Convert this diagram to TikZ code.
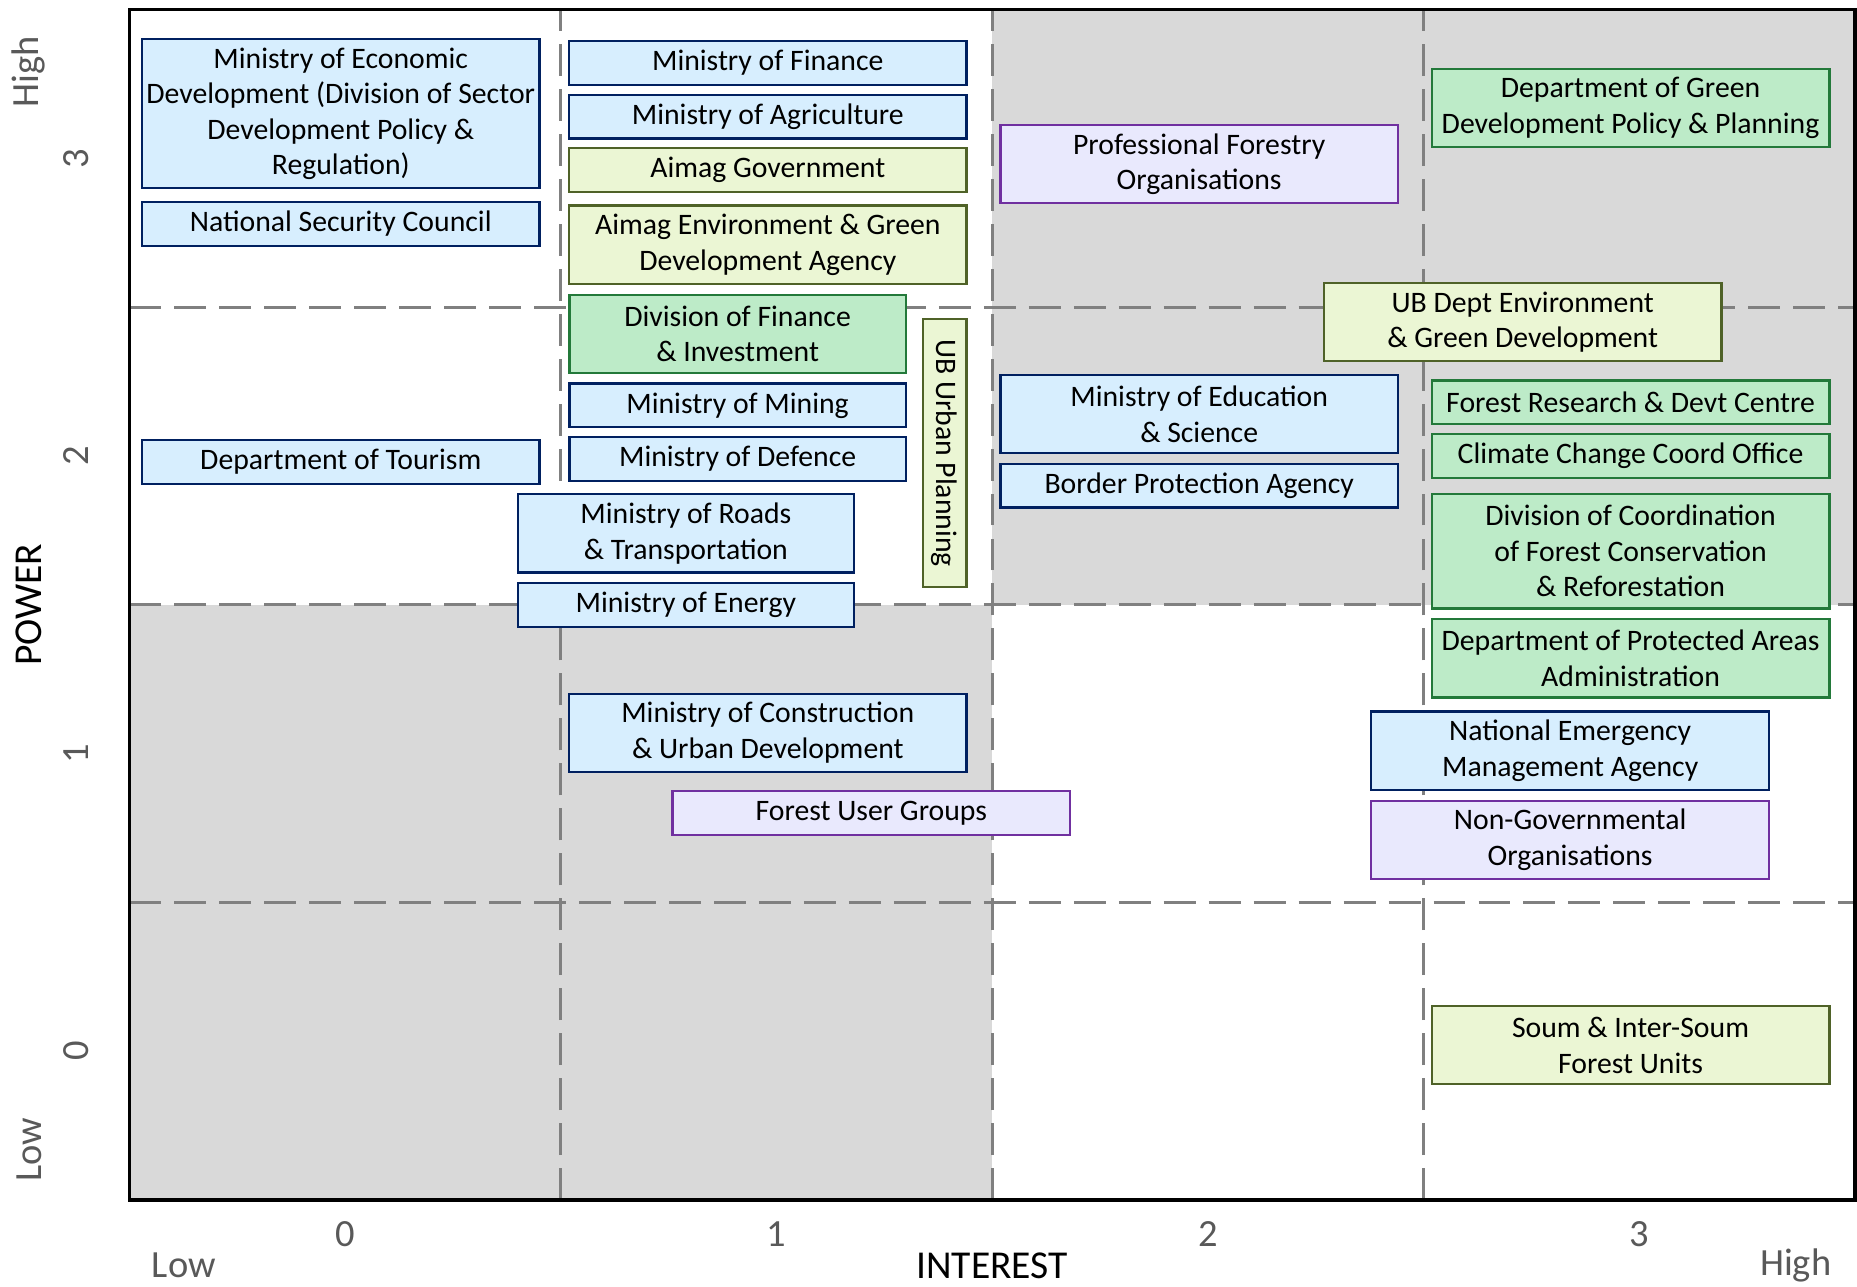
\documentclass[tikz,border=0pt]{standalone}
\usepackage{fontspec}
\setmainfont{Carlito}
\usepackage{xcolor}
\usepackage{tikz}
\definecolor{govfill}{HTML}{D7EEFE}
\definecolor{govline}{HTML}{002060}
\definecolor{aimagfill}{HTML}{EBF6D4}
\definecolor{aimagline}{HTML}{4F6228}
\definecolor{greenfill}{HTML}{BDEBC8}
\definecolor{greenline}{HTML}{23793A}
\definecolor{civilfill}{HTML}{E9E9FD}
\definecolor{civilline}{HTML}{7030A0}
\definecolor{zonefill}{HTML}{D9D9D9}
\definecolor{gridgrey}{HTML}{808080}
\definecolor{ticktext}{HTML}{595959}
\tikzset{
  station/.style={
    draw,
    line width=1.1pt,
    align=center,
    inner xsep=2pt,
    inner ysep=1pt,
    font=\fontsize{14.3}{17.1}\selectfont,
    minimum width=6.72cm
  },
  narrow/.style={minimum width=5.68cm},
  one line/.style={minimum height=0.74cm},
  two lines/.style={minimum height=1.32cm},
  three lines/.style={minimum height=1.94cm},
  four lines/.style={minimum height=2.52cm},
  ministry/.style={fill=govfill, draw=govline},
  provincial/.style={fill=aimagfill, draw=aimagline},
  division/.style={fill=greenfill, draw=greenline},
  civil/.style={fill=civilfill, draw=civilline},
  zone/.style={fill=zonefill},
  grid line/.style={draw=gridgrey, line width=1.5pt, dash pattern=on 0.54cm off 0.22cm},
  tickLabel/.style={font=\fontsize{18.5}{22}\selectfont, text=ticktext},
  axisLabel/.style={font=\fontsize{19}{22}\selectfont}
}

\begin{document}
\begin{tikzpicture}[x=7.29cm,y=5.03cm]
\path[use as bounding box] (-0.80,-0.79) rectangle (3.505,3.532);

% shaded quadrants and grid
\fill[zone] (1.5,1.5) rectangle (3.5,3.5);
\fill[zone] (-0.5,-0.5) rectangle (1.5,1.5);
\foreach \g in {0.5,1.5,2.5} {
  \draw[grid line] (\g,-0.5) -- (\g,3.5);
  \draw[grid line] (-0.5,\g) -- (3.5,\g);
}
\draw[line width=1.8pt] (-0.5,-0.5) rectangle (3.5,3.5);

% axes
\foreach \t in {0,1,2,3} {
  \node[tickLabel] (xtick\t) at (\t,-0.615) {\t};
  \node[tickLabel, rotate=90] (ytick\t) at (-0.623,\t) {\t};
}
\node[tickLabel] (xlow) at (-0.374,-0.72) {Low};
\node[tickLabel] (xhigh) at (3.363,-0.72) {High};
\node[axisLabel] (interest) at (1.5,-0.72) {INTEREST};
\node[tickLabel, rotate=90] (yhigh) at (-0.733,3.29) {High};
\node[tickLabel, rotate=90] (ylow) at (-0.733,-0.33) {Low};
\node[axisLabel, rotate=90] (power) at (-0.733,1.5) {POWER};

% low interest, high power
\node[station, ministry, four lines] (econ) at (-0.01,3.15) {Ministry of Economic\\Development (Division of Sector\\Development Policy \&\\Regulation)};
\node[station, ministry, one line] (security) at (-0.01,2.78) {National Security Council};
\node[station, ministry, one line] (tourism) at (-0.01,1.98) {Department of Tourism};

\node[station, ministry, one line] (finance) at (0.98,3.32) {Ministry of Finance};
\node[station, ministry, one line] (agri) at (0.98,3.14) {Ministry of Agriculture};
\node[station, provincial, one line] (aimag) at (0.98,2.96) {Aimag Government};
\node[station, provincial, two lines] (aimagenv) at (0.98,2.71) {Aimag Environment \& Green\\Development Agency};
\node[station, division, narrow, two lines] (divfin) at (0.91,2.41) {Division of Finance\\\& Investment};
\node[station, ministry, narrow, one line] (mining) at (0.91,2.17) {Ministry of Mining};
\node[station, ministry, narrow, one line] (defence) at (0.91,1.99) {Ministry of Defence};
\node[station, ministry, narrow, two lines] (roads) at (0.79,1.74) {Ministry of Roads\\\& Transportation};
\node[station, ministry, narrow, one line] (energy) at (0.79,1.50) {Ministry of Energy};
\node[station, provincial, one line, minimum width=4.54cm, rotate=-90] (ubplan) at (1.39,2.01) {UB Urban Planning};

% high interest, high power
\node[station, civil, two lines] (profor) at (1.98,2.98) {Professional Forestry\\Organisations};
\node[station, ministry, two lines] (edu) at (1.98,2.14) {Ministry of Education\\\& Science};
\node[station, ministry, one line] (border) at (1.98,1.90) {Border Protection Agency};
\node[station, division, two lines] (greendev) at (2.98,3.17) {Department of Green\\Development Policy \& Planning};
\node[station, provincial, two lines] (ubenv) at (2.73,2.45) {UB Dept Environment\\\& Green Development};
\node[station, division, one line] (research) at (2.98,2.18) {Forest Research \& Devt Centre};
\node[station, division, one line] (climate) at (2.98,2.00) {Climate Change Coord Office};
\node[station, division, three lines] (coord) at (2.98,1.68) {Division of Coordination\\of Forest Conservation\\\& Reforestation};

% lower power
\node[station, division, two lines] (protected) at (2.98,1.32) {Department of Protected Areas\\Administration};
\node[station, ministry, two lines] (emergency) at (2.84,1.01) {National Emergency\\Management Agency};
\node[station, civil, two lines] (ngo) at (2.84,0.71) {Non-Governmental\\Organisations};
\node[station, ministry, two lines] (construct) at (0.98,1.07) {Ministry of Construction\\\& Urban Development};
\node[station, civil, one line] (users) at (1.22,0.80) {Forest User Groups};
\node[station, provincial, two lines] (soum) at (2.98,0.02) {Soum \& Inter-Soum\\Forest Units};
\end{tikzpicture}
\end{document}
